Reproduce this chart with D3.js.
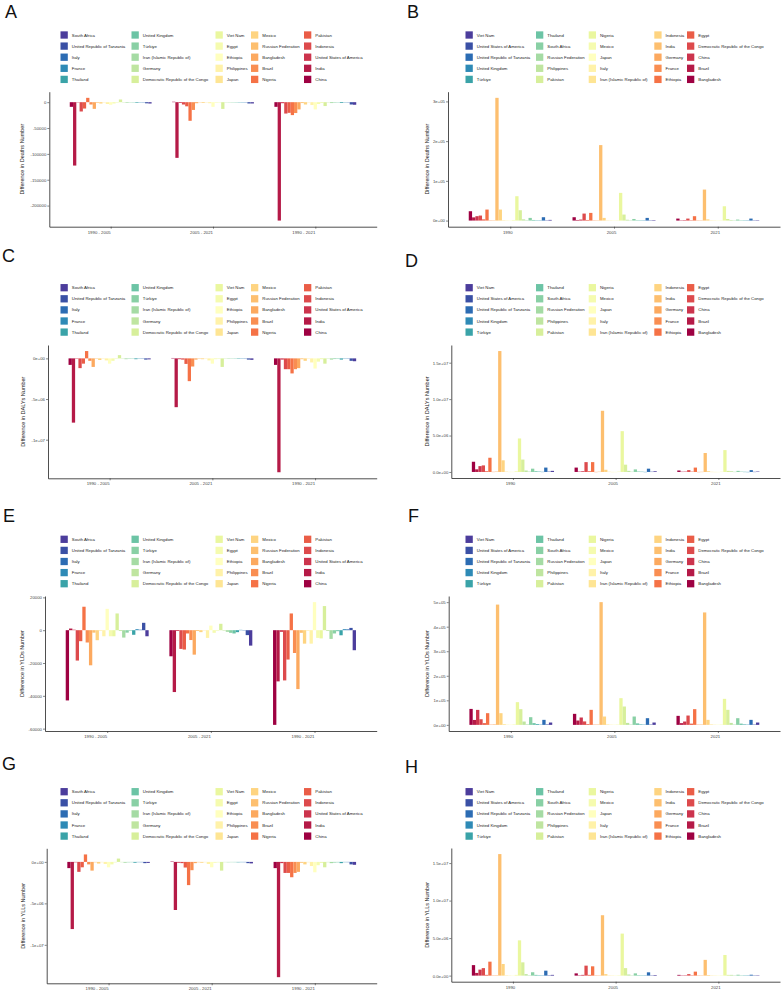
<!DOCTYPE html>
<html><head><meta charset="utf-8">
<script src="https://cdn.jsdelivr.net/npm/d3@7"></script>
<style>body{margin:0;background:#fff;} svg{display:block;font-family:"Liberation Sans",Arial,sans-serif;}</style>
</head><body><svg id="c" width="784" height="992"></svg>
<script>
// ---------- categories ----------
const countriesChange = ["China","India","United States of America","Indonesia","Pakistan","Nigeria","Brazil","Bangladesh","Russian Federation","Mexico","Japan","Philippines","Ethiopia","Egypt","Viet Nam","Democratic Republic of the Congo","Germany","Iran (Islamic Republic of)","Türkiye","United Kingdom","Thailand","France","Italy","United Republic of Tanzania","South Africa"];
const countriesGap = ["Bangladesh","Brazil","China","Democratic Republic of the Congo","Egypt","Ethiopia","France","Germany","India","Indonesia","Iran (Islamic Republic of)","Italy","Japan","Mexico","Nigeria","Pakistan","Philippines","Russian Federation","South Africa","Thailand","Türkiye","United Kingdom","United Republic of Tanzania","United States of America","Viet Nam"];
const periods = ["1990 - 2005","2005 - 2021","1990 - 2021"];
const years = ["1990","2005","2021"];

// ---------- values (order = countriesChange / countriesGap) ----------
const deathsChange = [
 [-9000,-122600,-600,-18000,-12300,8400,-4500,-12900,-1200,-2600,-300,-3500,-5000,-2500,-800,5200,-200,-1200,-600,-300,-1200,-200,-300,-2200,-2600],
 [800,-107700,-1500,-4500,-8000,-36000,-15000,-2000,-500,-1500,-200,-2000,-9000,-1000,-500,-13000,-100,-500,-300,-200,-300,-100,-100,-2500,-2500],
 [-9000,-229000,-2000,-22000,-20600,-25000,-21000,-14000,-1700,-4500,-500,-5500,-14000,-3500,-1300,-7500,-300,-1700,-900,-500,-1500,-300,-400,-4500,-5000]];
const deathsGap = [
 [23500,8000,11000,12600,3000,27700,300,800,309000,27700,1000,300,500,1500,61300,26000,3000,1000,6700,1500,800,300,8400,800,1700],
 [8400,1500,2500,17600,1500,19300,200,500,190000,6700,500,200,300,800,69700,15100,2000,500,4000,1000,500,200,6700,500,1200],
 [5000,800,1200,5000,1000,11000,200,300,78000,3000,400,200,300,600,36000,4000,1500,400,2500,800,400,200,5000,400,1000]];
const dalysChange = [
 [-0.8e6,-7.9e6,-0.05e6,-1.2e6,-0.65e6,0.9e6,-0.3e6,-1.05e6,-0.05e6,-0.2e6,-0.02e6,-0.25e6,-0.65e6,-0.3e6,-0.05e6,0.4e6,-0.02e6,-0.1e6,-0.05e6,-0.03e6,-0.1e6,-0.02e6,-0.02e6,-0.15e6,-0.12e6],
 [0.05e6,-6.0e6,-0.1e6,-0.15e6,-0.68e6,-2.8e6,-1.0e6,-0.15e6,-0.05e6,-0.1e6,-0.02e6,-0.25e6,-0.65e6,-0.1e6,-0.05e6,-1.05e6,-0.02e6,-0.05e6,-0.03e6,-0.02e6,-0.05e6,-0.01e6,-0.01e6,-0.15e6,-0.18e6],
 [-0.8e6,-14.0e6,-0.15e6,-1.33e6,-1.33e6,-1.85e6,-1.33e6,-1.2e6,-0.1e6,-0.3e6,-0.04e6,-0.5e6,-1.25e6,-0.4e6,-0.1e6,-0.65e6,-0.04e6,-0.15e6,-0.08e6,-0.05e6,-0.15e6,-0.03e6,-0.03e6,-0.3e6,-0.35e6]];
const dalysGap = [
 [1.4e6,0.36e6,0.8e6,0.9e6,0.1e6,1.95e6,0.02e6,0.05e6,16.6e6,1.6e6,0.05e6,0.02e6,0.02e6,0.1e6,4.6e6,1.7e6,0.2e6,0.05e6,0.45e6,0.1e6,0.05e6,0.02e6,0.6e6,0.05e6,0.15e6],
 [0.6e6,0.05e6,0.1e6,1.35e6,0.1e6,1.35e6,0.01e6,0.03e6,8.4e6,0.3e6,0.03e6,0.01e6,0.01e6,0.05e6,5.6e6,1.0e6,0.15e6,0.03e6,0.35e6,0.06e6,0.03e6,0.01e6,0.45e6,0.03e6,0.1e6],
 [0.2e6,0.03e6,0.05e6,0.25e6,0.05e6,0.6e6,0.01e6,0.02e6,2.6e6,0.1e6,0.02e6,0.01e6,0.01e6,0.03e6,3.0e6,0.15e6,0.1e6,0.02e6,0.15e6,0.04e6,0.02e6,0.01e6,0.25e6,0.02e6,0.06e6]];
const yldsChange = [
 [-42800,1000,300,-18500,-6700,14300,-7500,-21400,-1500,-6100,-300,-3700,13000,-3700,-3700,10200,-500,-4500,-1500,-300,-2800,600,300,4500,-3700],
 [-15900,-37700,-500,-11400,-11800,-2000,-6000,-14900,-500,-1200,-200,-4700,2800,-1600,-300,3900,-300,-1000,-1600,-2000,-1200,200,100,-3000,-9400],
 [-57700,-31200,-1000,-30600,-17900,10200,-13900,-35900,-1600,-8200,-300,-8200,17100,-4700,-5000,14700,-500,-5300,-2000,-600,-3100,600,500,1400,-12200]];
const yldsGap = [
 [65000,20000,61000,23000,7000,47600,1000,2000,490000,47600,3000,1000,1000,2000,92500,64000,13600,2000,31300,7000,3000,1000,20400,2000,9500],
 [44900,17700,30000,14000,3000,61200,1000,1500,500000,34000,2000,800,800,1500,108800,74800,8000,1500,34000,6000,2000,800,27200,1500,9500],
 [36700,7000,13600,38000,5000,64000,800,1500,458000,20400,2000,800,800,1500,106000,61200,8000,1500,27200,5000,2000,800,20400,1500,9500]];
const yllsChange = [
 [-0.75e6,-8.1e6,-0.05e6,-1.2e6,-0.65e6,0.9e6,-0.3e6,-1.05e6,-0.05e6,-0.2e6,-0.02e6,-0.25e6,-0.65e6,-0.3e6,-0.05e6,0.4e6,-0.02e6,-0.1e6,-0.05e6,-0.03e6,-0.1e6,-0.02e6,-0.02e6,-0.15e6,-0.12e6],
 [0.05e6,-5.8e6,-0.1e6,-0.15e6,-0.68e6,-2.8e6,-1.0e6,-0.15e6,-0.05e6,-0.1e6,-0.02e6,-0.25e6,-0.65e6,-0.1e6,-0.05e6,-1.05e6,-0.02e6,-0.05e6,-0.03e6,-0.02e6,-0.05e6,-0.01e6,-0.01e6,-0.15e6,-0.18e6],
 [-0.75e6,-13.9e6,-0.15e6,-1.33e6,-1.33e6,-1.85e6,-1.33e6,-1.2e6,-0.1e6,-0.3e6,-0.04e6,-0.5e6,-1.25e6,-0.4e6,-0.1e6,-0.65e6,-0.04e6,-0.15e6,-0.08e6,-0.05e6,-0.15e6,-0.03e6,-0.03e6,-0.3e6,-0.35e6]];
const yllsGap = [
 [1.4e6,0.36e6,0.8e6,1.0e6,0.1e6,1.86e6,0.02e6,0.05e6,16.2e6,1.55e6,0.05e6,0.02e6,0.02e6,0.1e6,4.7e6,1.77e6,0.2e6,0.05e6,0.45e6,0.1e6,0.05e6,0.02e6,0.66e6,0.05e6,0.1e6],
 [0.3e6,0.05e6,0.1e6,1.33e6,0.1e6,1.24e6,0.01e6,0.03e6,8.05e6,0.2e6,0.03e6,0.01e6,0.01e6,0.05e6,5.6e6,1.0e6,0.15e6,0.03e6,0.3e6,0.06e6,0.03e6,0.01e6,0.44e6,0.03e6,0.08e6],
 [0.1e6,0.03e6,0.05e6,0.2e6,0.05e6,0.53e6,0.01e6,0.02e6,2.1e6,0.08e6,0.02e6,0.01e6,0.01e6,0.03e6,2.75e6,0.1e6,0.1e6,0.02e6,0.12e6,0.04e6,0.02e6,0.01e6,0.12e6,0.02e6,0.05e6]];

// ---------- tick values / labels ----------
const deathsChangeTicks = [0,-50000,-100000,-150000,-200000];
const deathsChangeLabels = ["0","-50000","-100000","-150000","-200000"];
const deathsGapTicks = [0,1e5,2e5,3e5];
const deathsGapLabels = ["0e+00","1e+05","2e+05","3e+05"];
const bigChangeTicks = [0,-5e6,-1e7];
const bigChangeLabels = ["0e+00","-5e+06","-1e+07"];
const bigGapTicks = [0,5e6,1e7,1.5e7];
const bigGapLabels = ["0.0e+00","5.0e+06","1.0e+07","1.5e+07"];
const yldsChangeTicks = [20000,0,-20000,-40000,-60000];
const yldsChangeLabels = ["20000","0","-20000","-40000","-60000"];
const yldsGapTicks = [0,1e5,2e5,3e5,4e5,5e5];
const yldsGapLabels = ["0e+00","1e+05","2e+05","3e+05","4e+05","5e+05"];

// ---------- colours (Spectral ramp, blue end as seen in the figure) ----------
const spectral = ["#9E0142","#D53E4F","#F46D43","#FDAE61","#FEE08B","#FFFFBF","#E6F598","#ABDDA4","#66C2A5","#3288BD","#5E4FA2"];
const ramp = d3.scaleLinear().domain(spectral.map((_, i) => i * 24 / 10)).range(spectral).interpolate(d3.interpolateRgb);
const blueEnd = ["#3AA3A8","#2E8AB6","#2C6CB3","#3A50A5","#4C3D9C"];
const colour = i => (i >= 20 ? blueEnd[i - 20] : ramp(i));

const legLeft = [60.5,131.5,215.5,251,304];
const legRight = [73.5,144,196.7,262.3,295];
const panels = [
 {key:"A", x0:0, lab:[5,18], legY:35, top:91.7, bottom:226.7, axisX:49.3, right:376.7, legX:legLeft, titleX:21.7, dx:-12,
  countries:countriesChange, cats:periods, values:deathsChange, ticks:deathsChangeTicks, tickLabels:deathsChangeLabels, title:"Difference in Deaths Number"},
 {key:"B", x0:392, lab:[15,18], legY:35, top:91.7, bottom:226.7, axisX:56, right:388, legX:legRight, titleX:35, dx:-3,
  countries:countriesGap, cats:years, values:deathsGap, ticks:deathsGapTicks, tickLabels:deathsGapLabels, title:"Difference in Deaths Number"},
 {key:"C", x0:0, lab:[2,262], legY:287.7, top:345, bottom:478.3, axisX:48, right:376.7, legX:legLeft, titleX:22.7, dx:-12,
  countries:countriesChange, cats:periods, values:dalysChange, ticks:bigChangeTicks, tickLabels:bigChangeLabels, title:"Difference in DALYs Number"},
 {key:"D", x0:392, lab:[13,267], legY:287.7, top:345, bottom:478, axisX:59.3, right:388, legX:legRight, titleX:35, dx:-3,
  countries:countriesGap, cats:years, values:dalysGap, ticks:bigGapTicks, tickLabels:bigGapLabels, title:"Difference in DALYs Number"},
 {key:"E", x0:0, lab:[3,522], legY:539.3, top:596, bottom:731, axisX:45, right:376.7, legX:legLeft, titleX:21.7, dx:-12,
  countries:countriesChange, cats:periods, values:yldsChange, ticks:yldsChangeTicks, tickLabels:yldsChangeLabels, title:"Difference in YLDs Number"},
 {key:"F", x0:392, lab:[16,522], legY:539.3, top:596, bottom:731, axisX:56.7, right:388, legX:legRight, titleX:35, dx:-3,
  countries:countriesGap, cats:years, values:yldsGap, ticks:yldsGapTicks, tickLabels:yldsGapLabels, title:"Difference in YLDs Number"},
 {key:"G", x0:0, lab:[2,770], legY:791.7, top:848.3, bottom:983.3, axisX:46.7, right:376.7, legX:legLeft, titleX:22.7, dx:-12,
  countries:countriesChange, cats:periods, values:yllsChange, ticks:bigChangeTicks, tickLabels:bigChangeLabels, title:"Difference in YLLs Number"},
 {key:"H", x0:392, lab:[13,773], legY:791.7, top:848, bottom:981.7, axisX:59.3, right:388, legX:legRight, titleX:35, dx:-3,
  countries:countriesGap, cats:years, values:yllsGap, ticks:bigGapTicks, tickLabels:bigGapLabels, title:"Difference in YLLs Number"}
];

const svg = d3.select("#c");
svg.append("rect").attr("width",784).attr("height",992).attr("fill","#fff");

panels.forEach(p => {
  const g = svg.append("g").attr("transform", `translate(${p.x0},0)`);
  g.append("text").attr("x", p.lab[0]).attr("y", p.lab[1]).attr("font-size", 18).attr("fill", "#111").text(p.key);

  // legend (reverse of bar order, column-major, 5 rows)
  const n = p.countries.length;
  for (let j = 0; j < n; j++) {
    const idx = n - 1 - j;
    const col = Math.floor(j / 5), row = j % 5;
    const cy = p.legY + row * 11.1;
    const lx = p.legX[col];
    g.append("rect").attr("x", lx).attr("y", cy - 3.65).attr("width", 7.3).attr("height", 7.3).attr("fill", colour(idx));
    g.append("text").attr("x", lx + 11.3).attr("y", cy).attr("dominant-baseline", "central")
      .attr("font-size", 4.3).attr("fill", "#222").text(p.countries[idx]);
  }

  // scales
  const x = d3.scaleLinear().domain([0.4, 3.6]).range([p.axisX, p.right]);
  const all = p.values.flat();
  const lo = Math.min(0, d3.min(all)), hi = Math.max(0, d3.max(all)), pad = (hi - lo) * 0.05;
  const y = d3.scaleLinear().domain([lo - pad, hi + pad]).range([p.bottom, p.top]);

  // bars (dodged, width 0.8)
  const bw = 0.8 / n;
  p.values.forEach((arr, k) => {
    g.append("g").selectAll("rect").data(arr).join("rect")
      .attr("x", (d, i) => x(k + 1 - 0.4 + i * bw))
      .attr("width", (d, i) => x(k + 1 - 0.4 + (i + 1) * bw) - x(k + 1 - 0.4 + i * bw))
      .attr("y", d => Math.min(y(0), y(d)))
      .attr("height", d => Math.max(0.3, Math.abs(y(d) - y(0))))
      .attr("fill", (d, i) => colour(i));
  });

  // y axis
  const ya = g.append("g").attr("transform", `translate(${p.axisX},0)`)
    .call(d3.axisLeft(y).tickValues(p.ticks).tickFormat((d, i) => p.tickLabels[i]).tickSize(2).tickSizeOuter(0));
  ya.select(".domain").attr("stroke", "#222").attr("stroke-width", 0.8);
  ya.selectAll(".tick line").attr("stroke", "#333").attr("stroke-width", 0.6);
  ya.selectAll("text").attr("font-size", 4.3).attr("fill", "#444").attr("font-family", null).attr("x", -3);

  // x axis
  const xa = g.append("g").attr("transform", `translate(0,${p.bottom})`)
    .call(d3.axisBottom(x).tickValues([1, 2, 3]).tickFormat((d, i) => p.cats[i]).tickSize(2).tickSizeOuter(0));
  xa.select(".domain").attr("stroke", "#222").attr("stroke-width", 0.8);
  xa.selectAll(".tick line").attr("stroke", "#333").attr("stroke-width", 0.6);
  xa.selectAll("text").attr("font-size", 4.3).attr("fill", "#444").attr("font-family", null).attr("dx", p.dx).attr("y", 4);

  // y title
  g.append("text").attr("transform", `translate(${p.titleX},${(p.top + p.bottom) / 2}) rotate(-90)`)
    .attr("text-anchor", "middle").attr("dominant-baseline", "central").attr("font-size", 5.5).attr("fill", "#222").text(p.title);
});
</script></body></html>
